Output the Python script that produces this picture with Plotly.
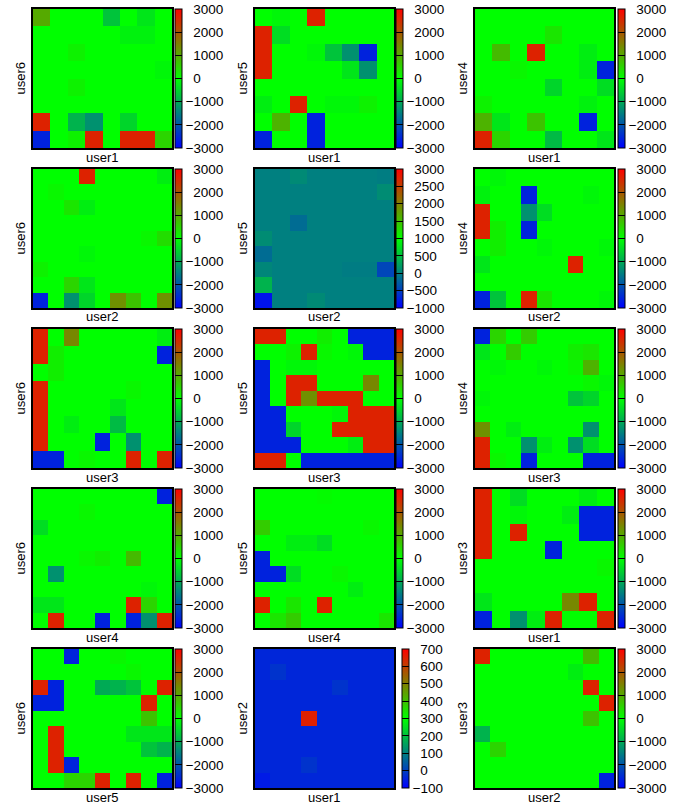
import plotly.graph_objects as go

# ---------------- data ----------------
TICKS_STD = [-3000, -2000, -1000, 0, 1000, 2000, 3000]
TICKS_P5 = [-1000, -500, 0, 500, 1000, 1500, 2000, 2500, 3000]
TICKS_P14 = [-100, 0, 100, 200, 300, 400, 500, 600, 700]

X_LABELS = ["user1", "user1", "user1",
            "user2", "user2", "user2",
            "user3", "user3", "user3",
            "user4", "user4", "user1",
            "user5", "user1", "user2"]
Y_LABELS = ["user6", "user5", "user4",
            "user6", "user5", "user4",
            "user6", "user5", "user4",
            "user6", "user5", "user3",
            "user6", "user2", "user3"]

z1 = [[1000, 0, 0, 0, -700, 0, -300, 0],
      [0, 0, 0, 0, 0, -150, -150, 0],
      [0, 0, 150, 0, 0, 0, 0, 0],
      [0, 0, 0, 0, 0, 0, 0, -100],
      [0, 0, 150, 0, 0, 0, 0, 0],
      [0, 0, 0, 0, 0, 0, 0, 0],
      [2600, 0, -900, -1300, 0, -500, 0, 0],
      [-2600, 0, 150, 2600, 0, 2600, 2600, 500]]
z2 = [[0, -100, 0, 2600, 0, 0, 0, 0],
      [2600, -400, 0, 0, 0, 0, 0, 0],
      [2600, 0, 0, -100, -700, -1300, -2600, 0],
      [2600, 0, 0, 0, 0, -300, -1300, 0],
      [0, 0, 0, 0, 0, 0, 0, 0],
      [-200, 0, 2600, 0, -100, -100, 150, 0],
      [0, 900, 0, -2600, 0, 0, 0, 0],
      [-2600, 0, 0, -2600, 0, 0, 0, 0]]
z3 = [[0, 0, 0, 0, 0, 0, 0, 0],
      [0, 0, 0, 0, 300, 0, 0, 0],
      [0, 800, 0, 2600, 0, 0, -200, 0],
      [0, 0, 100, 0, 0, 0, -200, -2600],
      [0, 0, 0, 0, -500, 0, 0, -400],
      [150, 0, 0, 0, 0, 0, -150, 0],
      [900, -300, 0, 700, 0, 0, -2600, 0],
      [2600, 500, 0, 0, -800, 0, 0, -300]]
z4 = [[0, 0, 0, 2600, 0, 0, 0, 0, -200],
      [0, 100, 0, 0, 0, 0, 0, 0, 0],
      [0, 0, 300, -200, 0, 0, 0, 0, 0],
      [0, 0, 0, 0, 0, 0, 0, 0, 0],
      [0, 0, 0, 0, 0, 0, 0, 100, 400],
      [0, 0, 0, -100, 0, 0, 0, 0, 0],
      [150, 0, 0, 0, 0, 0, 0, 0, 0],
      [0, 0, 500, -300, 0, 0, 0, 0, 0],
      [-2600, 0, -1300, -500, 0, 1300, 700, 0, 1300]]
z5 = [[0, 0, 80, 0, 0, 0, 0, -20],
      [0, 0, 0, 0, 0, 0, 0, 100],
      [0, 0, 0, 0, 0, 0, 0, 0],
      [0, 0, -150, 0, 0, 0, 0, 0],
      [100, 0, 0, 0, 0, 0, 0, 0],
      [-150, 0, 0, 0, 0, 0, 0, 0],
      [50, 0, 0, 0, 0, -30, -30, -450],
      [400, 0, 0, 0, 0, 0, 0, 0],
      [-850, 0, 0, 80, 0, 0, 0, 0]]
z6 = [[0, -100, 0, 0, 0, 0, 0, 0, 0],
      [-150, 0, 0, -2600, 0, 0, 0, -100, 0],
      [2600, 0, 0, -1300, -400, 0, 0, 0, 0],
      [2600, 200, 0, -2600, 0, 0, 0, 0, 0],
      [0, 200, 0, 0, -100, 0, 0, 0, -100],
      [-300, 0, 0, 0, 0, 0, 2600, 0, 0],
      [0, 0, 0, 0, 0, 0, 0, 0, 0],
      [-2600, -700, 0, 2600, 300, 0, 0, 0, -100]]
z7 = [[2600, 0, 1400, 0, 0, 0, 0, 0, -200],
      [2600, 200, 0, 0, 0, 0, 0, 0, -2600],
      [0, 200, 0, 0, 0, 0, 0, 0, 0],
      [2600, 0, 0, 0, 0, 0, 100, 0, 0],
      [2600, 0, 0, 0, 0, -300, 0, 0, 0],
      [2600, 0, -200, 0, 0, -800, 0, 0, 0],
      [2600, 0, 0, 0, -2600, 0, -1300, 0, 0],
      [-2600, -2600, 0, 100, 0, 0, 2600, 0, 2600]]
z8 = [[2600, 2600, 0, 0, 200, 0, -2600, -2600, -2600],
      [0, 0, 150, 2600, 100, 0, -100, -2600, -2600],
      [-2600, 0, -100, -100, 0, 0, 0, 0, 0],
      [-2600, 0, 2600, 2600, 0, 0, 0, 1400, 0],
      [-2600, 0, 2600, 1300, 2600, 2600, 2600, 0, 0],
      [-2600, -2600, 0, 0, 0, -100, 2600, 2600, 2600],
      [-2600, -2600, -500, 0, 0, 2600, 2600, 2600, 2600],
      [-2600, -2600, -2600, 0, 0, 0, -200, 2600, 2600],
      [2600, 2600, 0, -2600, -2600, -2600, -2600, -2600, -2600]]
z9 = [[-2600, 500, 0, 600, 0, 0, 0, 0, 0],
      [-300, 0, 600, 0, 0, 0, 200, 300, 0],
      [0, -100, 0, 0, -100, 0, 100, 900, 0],
      [0, 0, 0, 0, 0, 0, 0, 100, -100],
      [-100, 0, 0, 0, 0, 0, -700, -500, 0],
      [0, 0, 0, 0, 0, 0, 0, 0, 0],
      [1300, 0, -200, 0, 0, 0, 0, -1300, 0],
      [2600, 0, 0, -1300, -200, 0, -1300, -400, 0],
      [2600, 100, 0, -2600, 0, 0, 0, -2600, -2600]]
z10 = [[0, 0, 0, 0, 0, 0, 0, 0, -2600],
       [0, 0, 0, 100, 0, 0, 0, 0, 0],
       [-400, 0, 0, 0, 0, 0, 0, 0, 0],
       [0, 0, 0, 0, 0, 0, 0, 0, 0],
       [0, 0, 0, 100, 200, 0, 800, 0, 0],
       [0, -1300, 0, 0, 0, 0, 0, 0, 0],
       [0, 0, 0, 0, 0, 0, 0, -100, 0],
       [-300, -300, 0, 0, 0, 0, 2600, 500, 0],
       [0, 2600, 0, 0, -2600, 0, -2600, -1300, 2600]]
z11 = [[0, 0, 0, 0, 50, 0, 0, 0, 0],
       [0, 0, 0, 0, 0, 0, 0, 0, 0],
       [600, 0, 0, 0, 0, 0, 0, 100, 0],
       [0, 0, -200, -200, -400, 0, 0, 0, 0],
       [-2600, 0, 0, 0, 0, 0, 0, 0, 0],
       [-2600, -2600, -400, 0, 0, 100, 0, 0, 0],
       [0, 0, 0, 0, 0, 0, -200, 0, 0],
       [2600, 0, 300, 0, 2600, 0, 0, 0, 0],
       [0, 300, 600, 0, 0, 0, 0, 0, 300]]
z12 = [[2600, 0, -400, 0, 0, 0, -200, 0],
       [2600, 0, -100, 0, 0, -200, -2600, -2600],
       [2600, 0, 2600, 0, 0, 0, -2600, -2600],
       [2600, 0, 0, 0, -2600, 0, 0, 0],
       [0, 0, 0, 0, 0, 0, 0, 100],
       [0, 0, 0, 0, 0, 0, 0, 0],
       [-300, 0, 0, 0, 0, 1400, 2600, 0],
       [-2600, 0, -1300, -200, 2600, 0, 0, 2600]]
z13 = [[0, 0, -2600, 0, 0, 100, 0, 0, 0],
       [0, 0, 0, 0, 0, 0, 100, 0, 0],
       [2600, -2600, 0, 0, -1000, -900, -700, 0, 2600],
       [-2600, -2600, 0, 0, 0, 0, 0, 2600, 0],
       [0, 0, 0, 0, 0, 0, 0, 700, 0],
       [0, 2600, 0, 0, 0, 0, -300, -300, -300],
       [0, 2600, 0, 0, 0, 0, 0, -700, -900],
       [0, 2600, -2600, 0, 0, 0, 0, 0, 0],
       [0, 0, 500, 500, 2600, 0, 2600, 0, -2600]]
z14 = [[-40, -40, -40, -40, -40, -40, -40, -40, -40],
       [-40, -20, -40, -40, -40, -40, -40, -40, -40],
       [-40, -40, -40, -40, -40, -20, -40, -40, -40],
       [-40, -40, -40, -40, -40, -40, -40, -40, -40],
       [-40, -40, -40, 650, -40, -40, -40, -40, -40],
       [-40, -40, -40, -40, -40, -40, -40, -40, -40],
       [-40, -40, -40, -40, -40, -40, -40, -40, -40],
       [-40, -40, -40, -20, -40, -40, -40, -40, -40],
       [-60, -40, -40, -40, -40, -40, -40, -40, -40]]
z15 = [[2600, 0, 0, 0, 0, 0, 0, 800, 0],
       [0, 0, 0, 0, 0, 0, -200, 0, 0],
       [0, 0, 0, 0, 0, 0, 0, 2600, 0],
       [0, 0, 0, 0, 0, 0, 0, 0, 2600],
       [0, 0, 0, 0, 0, 0, 0, 700, 0],
       [-900, 0, 0, 0, 0, 0, 0, 0, 0],
       [0, 500, 0, 0, 0, 0, 0, 0, 0],
       [0, 0, 0, 0, 0, 0, 0, 0, 0],
       [0, 0, 0, 0, 0, 0, 0, 0, -2600]]

Z_ALL = [z1, z2, z3, z4, z5, z6, z7, z8, z9, z10, z11, z12, z13, z14, z15]
TICKS_ALL = [TICKS_STD] * 4 + [TICKS_P5] + [TICKS_STD] * 8 + [TICKS_P14] + [TICKS_STD]

# ---------------- layout constants ----------------
W, H = 684, 810
PW = 139
COL_LEFT = [33, 255, 475]
ROW_TOP = [9, 169, 329, 489, 649]
CB_LEFT = [175, 396, 618]
XT_GAP = 9     # px from plot bottom to x-title centre
YT_GAP = 13    # px from plot left to y-title centre
FONT = "Liberation Sans, Arial, sans-serif"
SCALE = [[0.0, "rgb(0,0,255)"], [0.5, "rgb(0,255,0)"], [1.0, "rgb(255,0,0)"]]


def fmt(v):
    return ("\u2212" + str(-v)) if v < 0 else ("\u2007" + str(v))


fig = go.Figure()
layout = {}
annotations = []
tfont = dict(family=FONT, size=13, color="black")
for i in range(15):
    r, c = divmod(i, 3)
    left, top = COL_LEFT[c], ROW_TOP[r]
    ticks = TICKS_ALL[i]
    z = Z_ALL[i]
    n = i + 1
    xa = "x" if n == 1 else f"x{n}"
    ya = "y" if n == 1 else f"y{n}"
    cb_left = CB_LEFT[c] + (6 if i == 13 else 0)
    fig.add_trace(go.Heatmap(
        z=z, xaxis=xa, yaxis=ya,
        colorscale=SCALE, zmin=ticks[0], zmax=ticks[-1],
        colorbar=dict(
            x=cb_left / W, xanchor="left", xpad=0,
            y=1 - (top + PW / 2) / H, yanchor="middle", ypad=0,
            len=PW, lenmode="pixels", thickness=7, thicknessmode="pixels",
            outlinecolor="black", outlinewidth=1,
            tickmode="array", tickvals=ticks, ticktext=[fmt(t) for t in ticks],
            ticks="inside", ticklen=7, tickcolor="black", tickwidth=1,
            tickfont=dict(family=FONT, size=13.5, color="black"),
        ),
        hoverinfo="skip",
    ))
    axcommon = dict(showgrid=False, zeroline=False, showticklabels=False, ticks="",
                    showline=True, mirror=True, linecolor="black", linewidth=1.5,
                    automargin=False)
    layout["xaxis" if n == 1 else f"xaxis{n}"] = dict(
        domain=[left / W, (left + PW) / W], anchor=ya, **axcommon)
    layout["yaxis" if n == 1 else f"yaxis{n}"] = dict(
        domain=[1 - (top + PW) / H, 1 - top / H], anchor=xa, autorange="reversed",
        **axcommon)
    annotations.append(dict(text=X_LABELS[i], xref="paper", yref="paper",
                            x=(left + PW / 2) / W, y=1 - (top + PW + XT_GAP) / H,
                            xanchor="center", yanchor="middle", showarrow=False, font=tfont))
    annotations.append(dict(text=Y_LABELS[i], xref="paper", yref="paper",
                            x=(left - YT_GAP) / W, y=1 - (top + PW / 2) / H, textangle=-90,
                            xanchor="center", yanchor="middle", showarrow=False, font=tfont))

fig.update_layout(width=W, height=H,
                  margin=dict(l=0, r=0, t=0, b=0, pad=0, autoexpand=False),
                  paper_bgcolor="white", plot_bgcolor="white", showlegend=False,
                  font=dict(family=FONT, size=13, color="black"),
                  annotations=annotations, **layout)
fig.write_html("out.html", config={"displayModeBar": False},
               post_script="document.body.style.margin='0';document.body.style.padding='0';")
